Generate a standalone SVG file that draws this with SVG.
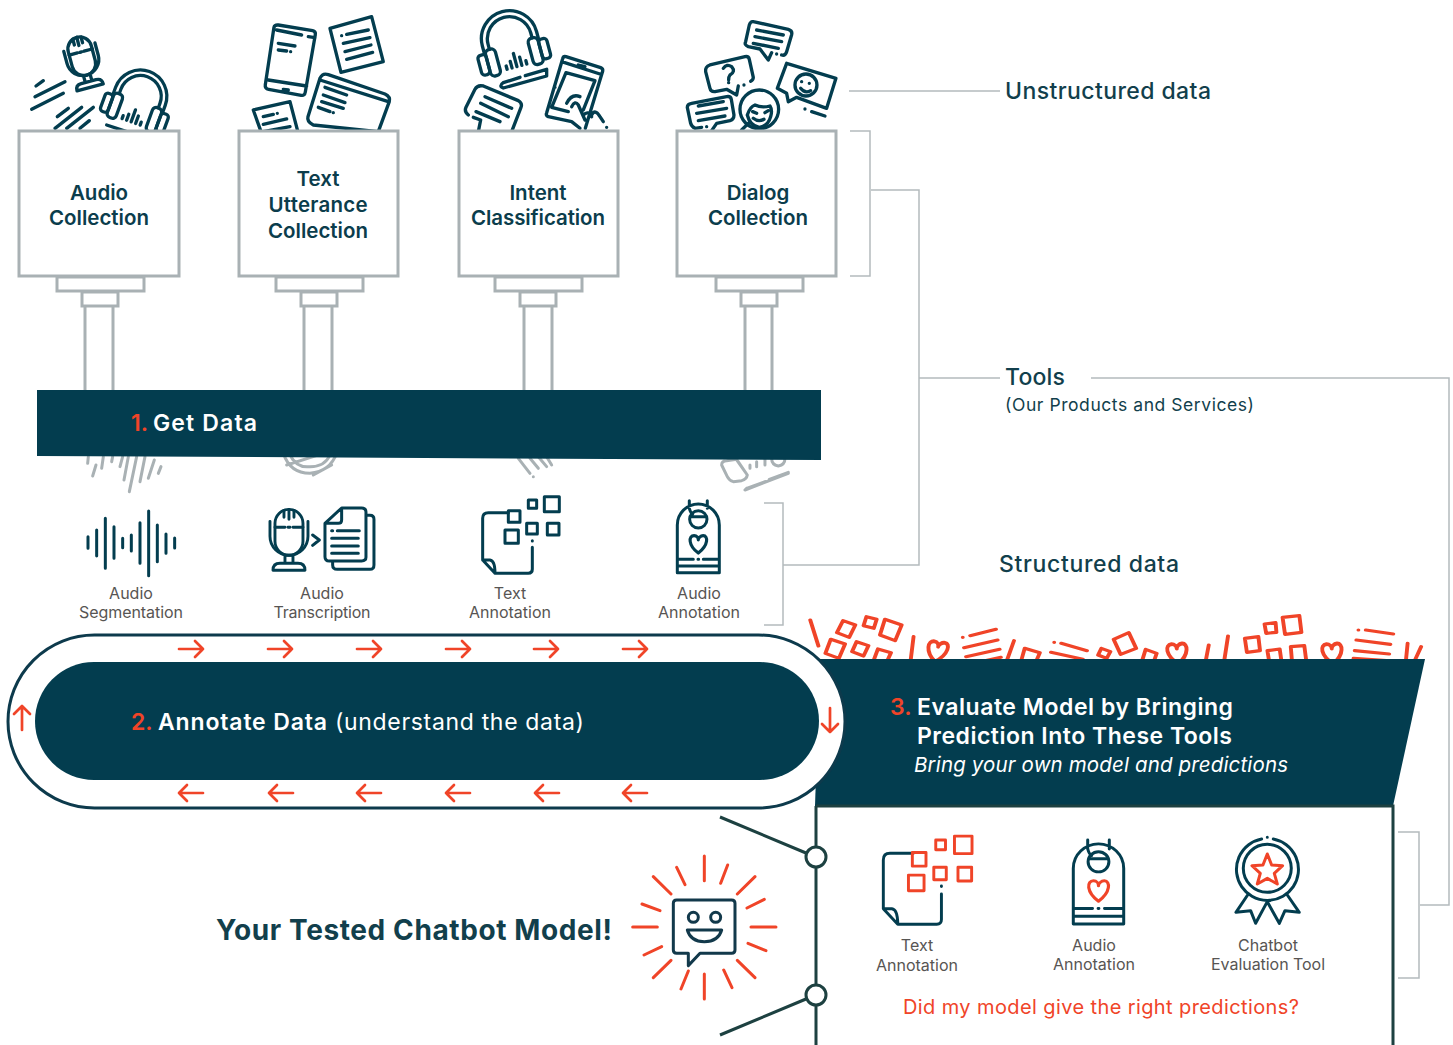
<svg xmlns="http://www.w3.org/2000/svg" xmlns:xlink="http://www.w3.org/1999/xlink" width="1453" height="1045" viewBox="0 0 1453 1045">
<style>
text{font-family:Inter,"Open Sans","Liberation Sans",sans-serif}
.ln{fill:none;stroke-linecap:round;stroke-linejoin:round}
.dk{stroke:#033d4f}
.rd{stroke:#f04428}
.gy{stroke:#a9b1b4}
.s9{stroke-width:9}
.s10{stroke-width:10}
.s8{stroke-width:8}
.box{fill:#fff;stroke:#a9b1b4;stroke-width:3}
.stem{fill:#fff;stroke:#a9b1b4;stroke-width:3}
.con{fill:none;stroke:#b4babd;stroke-width:1.5}
.title{font-size:20.5px;font-weight:600;fill:#0b3d4c;text-anchor:middle}
.lab{font-size:16px;fill:#575553;text-anchor:middle}
.side{font-size:23px;font-weight:500;fill:#123f4c}
.wh{fill:#fff;font-weight:600;font-size:23px}
.red{fill:#f04428;font-weight:600;font-size:23px}
</style>
<defs>
<g id="mic">
<rect x="-14" y="-24" width="28" height="46" rx="14"/>
<path d="M-14-6H-4M-1-6H1M4-6H14M-5-23V-16M0-24V-14M5-23V-16M-19-12V3A19 19 0 0 0 19 3V-12M-4 22V30M4 22V30M-16 37Q-16 30-9 30H9Q16 30 16 37Z"/>
</g>
<g id="phones">
<path d="M-33 4V-4A33 33 0 0 1 33-4V4M-26 2V-4A26 26 0 0 1 26-4V2"/>
<rect x="-42" y="6" width="10" height="24" rx="4"/><rect x="-32" y="2" width="12" height="32" rx="5"/>
<rect x="32" y="6" width="10" height="24" rx="4"/><rect x="20" y="2" width="12" height="32" rx="5"/>
<path d="M-12 30V26M-6 30V22M0 30V14M6 30V20M12 30V26"/>
</g>
<g id="sheet"><path d="M175 218H115Q98 218 98 235V360L135 400H235Q247 400 247 388V322M247 302V303M98 360H120Q135 362 135 400"/></g>
<g id="squares"><rect x="175" y="212" width="35" height="35"/><rect x="235" y="180" width="25" height="25"/><rect x="283" y="170" width="45" height="45"/><rect x="230" y="250" width="32" height="32"/><rect x="292" y="250" width="35" height="35"/><rect x="165" y="270" width="40" height="40"/></g>
<g id="tag"><path d="M682 398V255A63 63 0 0 1 808 255V398ZM682 358H730M744 358H746M760 358H808M682 378H808M722 230H768M718 182V205Q722 220 728 222M772 182V205"/><circle cx="745" cy="238" r="26"/></g>
<path id="heart" d="M0 28C-30 5-28-22-12-22-4-22 0-15 0-10 0-15 6-22 14-22 28-22 30 5 0 28Z"/>
<path id="arr" d="M-12 0H12M4-8L12 0 4 8"/>
</defs>

<g id="icon-audio" class="ln dk s10" transform="scale(.3333)">
<path d="M108 258L130 242M105 290L195 245M95 328L190 280M172 350L205 325M165 385L245 322M200 385L280 322M240 385L268 362M320 375L380 395"/>
<g transform="translate(246 171) rotate(-15) scale(2.55)" stroke-width="3.9"><use href="#mic"/></g>
<g transform="translate(418 298) rotate(20) scale(2.4)" stroke-width="4.1"><use href="#phones"/></g>
</g>

<g id="icon-text" class="ln dk s10" transform="scale(.3333)">
<path d="M835 75L938 92Q948 94 946 104L916 276Q914 288 904 286L806 268Q794 266 796 254L822 82Q824 74 835 75ZM830 90L905 105M925 110L945 113M805 240L920 258M850 268L865 270M835 130L885 138M835 150L860 153M872 155V155"/>
<path d="M990 85L1115 50 1150 185 1023 217ZM1025 107V107M1040 103L1105 90M1030 130L1110 113M1035 155L1113 135M1040 178L1118 157"/>
<path d="M985 224L1155 282Q1172 290 1168 305L1135 395 940 375Q920 365 924 350L960 235Q968 218 985 224ZM960 240L1165 305M975 262L1040 285M970 285L1035 308M965 305L1030 325M955 322L990 335M1000 338V338"/>
<path d="M760 330L870 305 895 400H785ZM790 350L820 343M832 340V340M790 373L860 357M790 395L870 380"/>
</g>

<g id="icon-intent" class="ln dk s10" transform="translate(440 0) scale(.3333)">
<g transform="translate(211 126) rotate(-15) scale(2.55)" stroke-width="3.9"><use href="#phones"/></g>
<path d="M190 248L240 232M256 227L320 208V228L190 264Q175 258 190 248"/>
<path d="M130 258L235 302Q248 310 243 322L215 395H115L122 360 100 352M85 345Q72 335 78 322L105 268Q112 254 130 258M135 290L215 325M122 310L205 350M108 335L180 365"/>
<path d="M378 170L482 203Q490 206 488 214L436 385M395 365L325 350Q316 346 320 338L368 176Q370 168 378 170M365 185L480 222M415 195L435 200M378 218L465 242 430 330M385 335L335 322 378 218M345 262V262M380 310Q395 280 420 290M395 320Q405 300 415 315L435 360M430 345Q445 330 455 350M455 345Q465 325 480 350L490 365M500 382V382M395 365L420 385"/>
</g>

<g id="icon-dialog" class="ln dk s10" transform="translate(440 0) scale(.3333)">
<path d="M940 65L1045 88Q1058 92 1055 104L1040 155Q1036 168 1025 165M1010 162V162M995 158L985 180 960 147 925 140Q912 135 917 125L928 75Q932 63 940 65M950 90L1030 105M945 110L1025 125M940 130L1015 145"/>
<path d="M810 195L915 170Q926 168 928 178L940 232Q940 240 932 244M912 255V255M895 258L890 285 860 268 825 275Q812 276 810 265L797 215Q795 200 810 195M850 205Q860 190 875 200 888 215 870 225 866 230 866 240M866 248V248"/>
<path d="M1040 190L1188 235 1160 325 1070 292 1045 305 1040 280 1012 265ZM1115 335L1155 348M1095 327V327"/>
<circle cx="1098" cy="255" r="33"/><path d="M1082 265Q1095 282 1112 272M1085 245V245M1108 250V250"/>
<path d="M755 310L860 290Q872 288 874 298L882 345Q882 358 870 362L830 370 815 392M800 380V380M785 382L765 385Q755 380 752 370L742 322Q742 312 755 310M775 318L850 305M770 340L860 325M775 362L855 348"/>
<circle cx="958" cy="328" r="58" fill="#fff"/><path d="M922 345Q930 320 945 315 965 325 990 318 998 330 992 350 985 378 958 382 930 378 922 345ZM940 355Q955 367 972 358M938 335L950 340M975 338L985 332M905 390L925 370"/>
</g>

<g id="box-audio"><rect class="box" x="19" y="131" width="160" height="145"/><rect class="stem" x="57" y="277" width="87" height="14"/><rect class="stem" x="82" y="292" width="36" height="14"/><path class="stem" d="M85 306V392M113 306V392"/>
<text class="title" x="99" y="200">Audio</text><text class="title" x="99" y="225" textLength="100">Collection</text></g>
<g id="box-text"><rect class="box" x="239" y="131" width="159" height="145"/><rect class="stem" x="276" y="277" width="87" height="14"/><rect class="stem" x="301" y="292" width="36" height="14"/><path class="stem" d="M304 306V392M332 306V392"/>
<text class="title" x="318" y="186">Text</text><text class="title" x="318" y="212" textLength="99">Utterance</text><text class="title" x="318" y="238" textLength="100">Collection</text></g>
<g id="box-intent"><rect class="box" x="459" y="131" width="159" height="145"/><rect class="stem" x="495" y="277" width="87" height="14"/><rect class="stem" x="520" y="292" width="36" height="14"/><path class="stem" d="M524 306V392M552 306V392"/>
<text class="title" x="538" y="200">Intent</text><text class="title" x="538" y="225" textLength="134">Classification</text></g>
<g id="box-dialog"><rect class="box" x="677" y="131" width="159" height="145"/><rect class="stem" x="716" y="277" width="87" height="14"/><rect class="stem" x="741" y="292" width="36" height="14"/><path class="stem" d="M745 306V392M772 306V392"/>
<text class="title" x="758" y="200">Dialog</text><text class="title" x="758" y="225" textLength="100">Collection</text></g>

<g id="shards" class="ln gy s8">
<g transform="translate(60 440) scale(.3333)" stroke-width="9">
<path d="M85 50L83 70M108 75L98 108M130 50L125 85M158 50L155 65M188 50L180 80M205 50L192 120M230 50L208 155M255 50L240 125M283 60L265 115M303 80L295 100"/>
<path d="M670 40Q690 100 750 100 810 95 830 40M690 45Q710 85 750 80 795 80 810 45M680 75L790 40M760 105L815 75"/>
</g>
<g transform="translate(450 440) scale(.3333)" stroke-width="9">
<path d="M205 55L240 100M240 55L265 85M265 50L290 80M290 50L305 75M250 110V110"/>
<path d="M815 75Q815 62 830 62L860 58 892 105Q890 118 875 122L850 125Q838 122 832 110ZM860 60L892 105M900 75V85M920 65V80M945 55V75M965 55Q965 75 985 78 1005 75 1005 55M890 145L945 125M958 118L1015 97M890 145L885 150 1015 100"/>
</g>
</g>

<g id="step1"><path d="M37 390H821V460L37 456Z" fill="#033d4f"/>
<text class="red" x="131" y="431">1.</text><text class="wh" x="153" y="431" textLength="104">Get Data</text></g>

<g id="icon-seg" class="ln dk s9" transform="translate(60 440) scale(.3333)">
<path d="M84 290V325M110 270V348M136 235V385M162 260V355M188 295V323M214 285V333M240 248V370M266 213V407M292 255V365M318 282V340M344 294V324"/></g>
<g id="icon-trans" class="ln dk s9" transform="translate(60 440) scale(.3333)">
<g transform="translate(687 280) scale(3)" stroke-width="2.9"><use href="#mic"/></g>
<path d="M758 285L778 300 758 316M845 204H905Q918 204 918 216V352Q918 363 905 363H808Q795 363 795 350V250ZM795 250H835Q845 250 845 240V204M918 226H930Q942 226 942 238V375Q942 388 930 388H832Q818 388 818 375V363M815 272H818M832 272H898M815 295H895M815 318H895M815 340H895"/></g>
<g id="icon-ann-text" class="ln dk" stroke-width="9" transform="translate(450 440) scale(.3333)"><use href="#sheet"/><use href="#squares"/></g>
<g id="icon-ann-audio" class="ln dk" stroke-width="9" transform="translate(450 440) scale(.3333)"><use href="#tag"/><use href="#heart" transform="translate(745 310) scale(1.05)"/></g>
<text class="lab" x="131" y="599">Audio</text><text class="lab" x="131" y="618" textLength="104">Segmentation</text>
<text class="lab" x="322" y="599">Audio</text><text class="lab" x="322" y="618" textLength="97">Transcription</text>
<text class="lab" x="510" y="599">Text</text><text class="lab" x="510" y="618" textLength="82">Annotation</text>
<text class="lab" x="699" y="599">Audio</text><text class="lab" x="699" y="618" textLength="82">Annotation</text>

<g id="connectors">
<path class="con" d="M849 91H1000M850 131H870V276H850M871 190H919V565H783M919 378H1000M764 503H783V625H764M1091 378H1449V905H1420M1398 832H1419V978H1398"/>
<path d="M720 817L806 853M720 1035L806 999" fill="none" stroke="#1d4141" stroke-width="3"/>
</g>
<text class="side" x="1005" y="99" textLength="206">Unstructured data</text>
<text class="side" x="1005" y="385" textLength="60">Tools</text>
<text x="1005" y="411" font-size="17.5" fill="#123f4c" textLength="249">(Our Products and Services)</text>
<text class="side" x="999" y="572" textLength="180">Structured data</text>

<g id="confetti" class="ln rd" stroke-width="9.5" transform="translate(800 600) scale(.41 .3333)">
<path d="M25 60L45 138M105 62L135 75 120 112 90 98ZM162 50L187 58 180 85 155 77ZM207 58L248 75 232 122 195 105ZM75 118L110 132 95 175 62 160ZM138 125L167 137 155 168 127 155ZM190 147L222 158 210 190 180 180ZM277 110L270 180M397 112V112M415 107L478 88M400 143L482 120M405 170L487 148M440 185L490 172M522 122L505 180M548 145L585 158 572 195 540 180ZM620 127V127M637 130L700 152M612 157L690 178M735 145L757 155 748 175 727 165ZM765 118L802 98 820 145 782 163ZM843 148L870 160 860 195 835 180ZM997 135L990 180M1044 108L1035 180M1085 115L1118 110 1122 152 1090 157ZM1133 72L1160 68 1162 97 1137 100ZM1177 52L1218 47 1223 97 1183 103ZM1140 152L1170 147 1175 190 1145 190ZM1197 140L1230 137 1235 185 1200 185ZM1362 90V90M1380 90L1447 102M1357 120L1440 133M1353 152L1437 162M1350 175L1430 182M1482 130L1478 180M1515 140L1500 180"/>
<use href="#heart" transform="translate(335 152) rotate(10) scale(1 1.2)"/><use href="#heart" transform="translate(920 158) rotate(-5) scale(1 1.2)"/><use href="#heart" transform="translate(1298 158) rotate(-5) scale(1 1.2)"/>
</g>

<g id="step3"><path d="M820 659H1425L1393 806H815Z" fill="#033d4f"/>
<text class="red" x="890" y="715">3.</text><text class="wh" x="917" y="715" textLength="316">Evaluate Model by Bringing</text>
<text class="wh" x="917" y="744" textLength="315">Prediction Into These Tools</text>
<text x="914" y="772" font-size="20.5" font-style="italic" fill="#fff" textLength="374">Bring your own model and predictions</text></g>

<g id="step2"><rect x="8" y="635" width="837" height="173" rx="86.5" fill="#fff" stroke="#0d3a4c" stroke-width="3"/>
<rect x="35" y="662" width="784" height="118" rx="59" fill="#033d4f"/>
<text class="red" x="131" y="730">2.</text><text class="wh" x="158" y="730" textLength="169">Annotate Data</text><text x="335" y="730" font-size="23" fill="#fff" textLength="249">(understand the data)</text>
<g class="ln rd" stroke-width="2.7">
<use href="#arr" transform="translate(191 649)"/><use href="#arr" transform="translate(280 649)"/><use href="#arr" transform="translate(369 649)"/><use href="#arr" transform="translate(458 649)"/><use href="#arr" transform="translate(546 649)"/><use href="#arr" transform="translate(635 649)"/>
<use href="#arr" transform="translate(191 793) rotate(180)"/><use href="#arr" transform="translate(281 793) rotate(180)"/><use href="#arr" transform="translate(369 793) rotate(180)"/><use href="#arr" transform="translate(458 793) rotate(180)"/><use href="#arr" transform="translate(547 793) rotate(180)"/><use href="#arr" transform="translate(635 793) rotate(180)"/>
<use href="#arr" transform="translate(22 718) rotate(-90)"/><use href="#arr" transform="translate(830 720) rotate(90)"/>
</g></g>

<g id="eval-frame"><path d="M816 806V1045M816 806H1393V1045" fill="none" stroke="#1d4141" stroke-width="3"/>
<circle cx="816" cy="857" r="10" fill="#fff" stroke="#1d4141" stroke-width="3"/><circle cx="816" cy="995" r="10" fill="#fff" stroke="#1d4141" stroke-width="3"/></g>

<g id="eval-text"><g class="ln" stroke-width="7.5"><use href="#sheet" class="dk" transform="translate(845.1 768.3) scale(.39)"/><use href="#squares" class="rd" transform="translate(844.1 769.8) scale(.39)"/></g>
<text class="lab" x="917" y="951">Text</text><text class="lab" x="917" y="971" textLength="82">Annotation</text></g>
<g id="eval-audio"><g class="ln" stroke-width="7.5" transform="translate(800.5 769.2) scale(.4 .389)"><use href="#tag" class="dk"/><use href="#heart" class="rd" transform="translate(745 310) scale(1.05)"/></g>
<text class="lab" x="1094" y="951">Audio</text><text class="lab" x="1094" y="970" textLength="82">Annotation</text></g>
<g id="eval-tool"><g class="ln dk s9" transform="translate(860 820) scale(.3333)">
<path d="M1205 57A93 93 0 1 0 1240 57M1222 52V52"/><circle cx="1222" cy="145" r="72"/>
<path d="M1165 222L1128 277 1172 272 1187 310 1222 245 1258 310 1275 272 1318 277 1280 222"/>
<path class="rd" d="M1222 102L1235 135 1268 137 1243 160 1252 192 1222 175 1192 192 1201 160 1176 137 1209 135Z"/></g>
<text class="lab" x="1268" y="951">Chatbot</text><text class="lab" x="1268" y="970" textLength="114">Evaluation Tool</text></g>
<text x="903" y="1014" font-size="20" fill="#f04428" textLength="396">Did my model give the right predictions?</text>

<text id="result-label" x="216" y="940" font-size="28" font-weight="700" fill="#123f4c" textLength="396">Your Tested Chatbot Model!</text>
<g id="icon-bot" transform="translate(620 800) scale(.3333)">
<path class="ln rd s9" d="M253 168V242M253 522V597M38 381H112M393 381H468M170 202L195 254M323 195L302 250M100 230L153 282M405 230L352 282M66 312L120 332M433 298L381 324M72 465L125 440M384 430L438 452M100 533L153 481M352 481L405 533M183 567L205 513M311 510L336 563"/>
<path class="ln s9" stroke="#12394b" d="M170 300H335Q345 300 345 310V450Q345 460 335 460H240L205 497V460H170Q160 460 160 450V310Q160 300 170 300Z"/>
<circle class="ln s9" stroke="#12394b" cx="220" cy="352" r="15"/><circle class="ln s9" stroke="#12394b" cx="287" cy="352" r="15"/>
<path class="ln s9" stroke="#12394b" d="M202 390H305Q295 425 253 425 212 425 202 390Z"/>
</g>
</svg>
